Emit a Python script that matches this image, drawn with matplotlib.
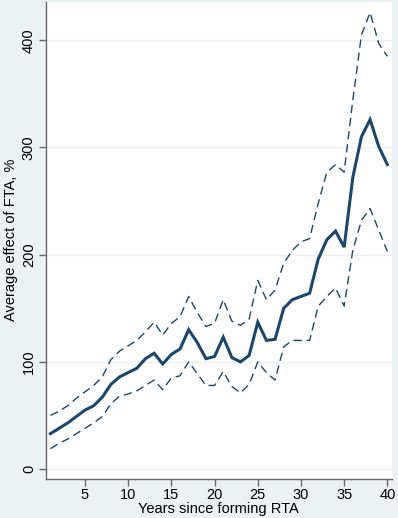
import numpy as np
import matplotlib
matplotlib.use("Agg")
import matplotlib.pyplot as plt

plt.rcParams['font.family'] = ['Liberation Sans', 'DejaVu Sans']

years = np.arange(1, 41)
efecto = [33, 38, 43, 49, 55, 59, 67, 79, 86, 90,
          94, 103, 108, 98, 107, 112, 130, 118, 103, 105,
          123, 104, 100, 106, 137, 120, 121, 150, 158, 161,
          164, 196, 214, 222, 207, 272, 310, 326, 301, 284]
superior = [50, 54, 59, 66, 72, 78, 86, 102, 110, 115,
            120, 128, 137, 125, 136, 142, 161, 146, 133, 136,
            158, 138, 134, 140, 176, 158, 167, 192, 204, 212,
            215, 248, 277, 284, 277, 344, 405, 426, 397, 385]
inferior = [19, 24, 28, 33, 38, 43, 49, 61, 68, 70,
            73, 78, 83, 74, 85, 87, 100, 89, 78, 78,
            91, 77, 71, 79, 100, 90, 83, 114, 120, 120,
            120, 152, 161, 169, 152, 204, 232, 243, 223, 203]

color = "#1a476f"
fondo = "#eaf2f3"

fig = plt.figure(figsize=(3.98, 5.18), dpi=100, facecolor=fondo)
ax = fig.add_axes([0.1148, 0.0759, 0.8693, 0.9208])
ax.set_facecolor("white")

ax.plot(years, superior, color=color, lw=1.0, dashes=(6, 3.5))
ax.plot(years, inferior, color=color, lw=1.0, dashes=(6, 3.5))
ax.plot(years, efecto, color=color, lw=2.2, solid_joinstyle="miter")

ax.set_xlim(0.45, 40.5)
ax.set_ylim(-9, 436)
ax.set_xticks([5, 10, 15, 20, 25, 30, 35, 40])
ax.set_yticks([0, 100, 200, 300, 400])
ax.grid(axis="y", color=fondo, lw=1.0)
ax.set_axisbelow(True)

for s in ["top", "right"]:
    ax.spines[s].set_visible(False)
for s in ["left", "bottom"]:
    ax.spines[s].set_color("#666666")
    ax.spines[s].set_linewidth(1.0)

ax.tick_params(axis="both", direction="out", length=5, width=1, color="#666666",
               labelsize=10.5, pad=2)
plt.setp(ax.get_yticklabels(), rotation=90, va="center")

ax.set_xlabel("Years since forming RTA", fontsize=10.5, labelpad=0)
ax.set_ylabel("Average effect of FTA, %", fontsize=10.5, labelpad=3)

fig.savefig("out.png", dpi=100, facecolor=fondo)
